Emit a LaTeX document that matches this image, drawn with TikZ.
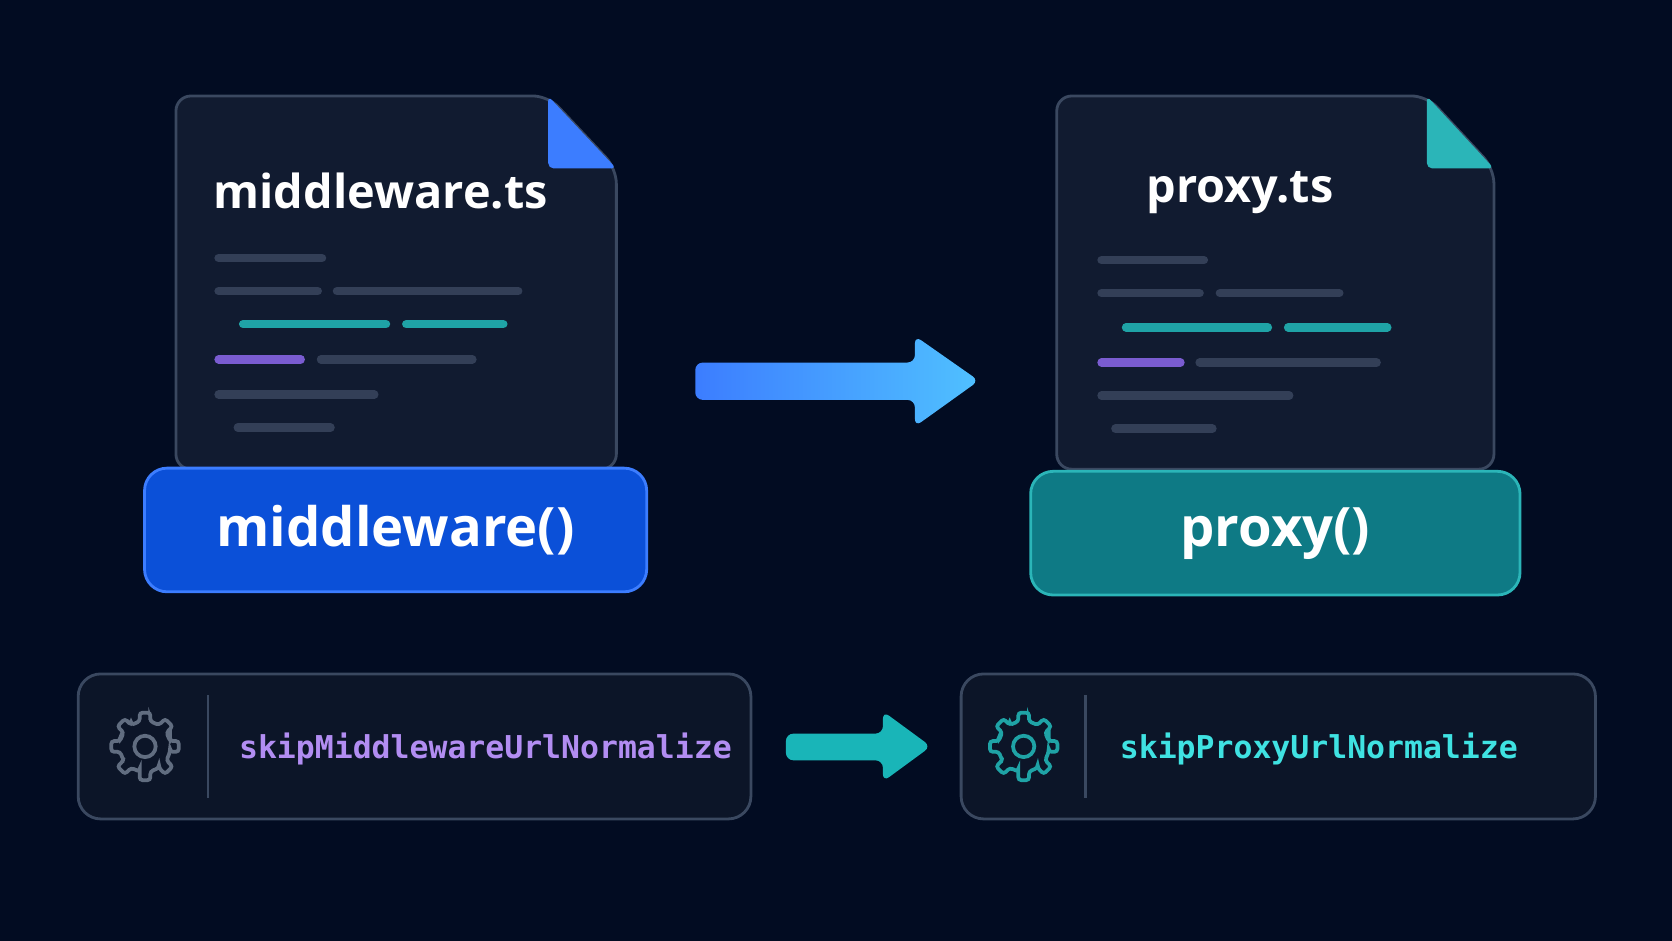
\documentclass[tikz,border=0pt]{standalone}
\usepackage{fontspec}
\setmainfont{Open Sans}
\newfontfamily\codefont{DejaVu Sans Mono}
\usetikzlibrary{positioning}

\definecolor{bgcol}{HTML}{020C22}
\definecolor{docfill}{HTML}{111B30}
\definecolor{docedge}{HTML}{3A4860}
\definecolor{codegrey}{HTML}{333F57}
\definecolor{codeteal}{HTML}{1FA3A6}
\definecolor{codepurple}{HTML}{7A5CD0}
\definecolor{mwblue}{HTML}{0B50D8}
\definecolor{mwedge}{HTML}{3C7DFF}
\definecolor{pxteal}{HTML}{0E7A85}
\definecolor{pxedge}{HTML}{2BB5B8}
\definecolor{purpletext}{HTML}{B28DF2}
\definecolor{cyantext}{HTML}{3FE2E2}
\definecolor{boxfill}{HTML}{0C1528}

\tikzset{
  doc/.style={draw=docedge, line width=1.5pt, fill=docfill, rounded corners=8pt},
  codeline/.style={line width=4.5pt, line cap=round},
  label/.style={rounded corners=12pt, line width=1.5pt, minimum width=9.42cm, minimum height=2.32cm,
    text=white, font=\fontsize{29}{29}\selectfont\bfseries},
  setting/.style={draw=docedge, line width=1.5pt, fill=boxfill, rounded corners=12pt,
    minimum height=2.72cm, anchor=west},
  settext/.style={font=\codefont\fontsize{16.8}{17}\selectfont\bfseries, anchor=west},
  gear/.style={line width=2pt, rounded corners=1.5pt},
}

\begin{document}
\begin{tikzpicture}[x=0.02cm,y=-0.02cm]
  \fill[bgcol] (0,0) rectangle (1568,882);

  % left file
  \draw[doc] (165,90) -- (514,90) -- (578,158) -- (578,440) -- (165,440) -- cycle;
  \fill[mwedge, rounded corners=3pt] (514,90) -- (578,158) -- (514,158) -- cycle;
  \node[font=\fontsize{25}{25}\selectfont\bfseries, text=white] (mwfile) at (357,179) {middleware.ts};
  \draw[codeline, codegrey] (205,242) -- (302,242);
  \draw[codeline, codegrey] (205,273) -- (298,273) (316,273) -- (486,273);
  \draw[codeline, codeteal] (228,304) -- (362,304) (381,304) -- (472,304);
  \draw[codeline, codepurple] (205,337) -- (282,337);
  \draw[codeline, codegrey] (301,337) -- (443,337) (205,370) -- (351,370) (223,401) -- (310,401);
  \node[label, fill=mwblue, draw=mwedge] (mwfunc) at (371,497) {middleware()};

  % right file
  \draw[doc] (991,90) -- (1338,90) -- (1401,158) -- (1401,440) -- (991,440) -- cycle;
  \fill[pxedge, rounded corners=3pt] (1338,90) -- (1401,158) -- (1338,158) -- cycle;
  \node[font=\fontsize{25}{25}\selectfont\bfseries, text=white] (pxfile) at (1163,181) {proxy.ts};
  \draw[codeline, codegrey] (1033,244) -- (1129,244);
  \draw[codeline, codegrey] (1033,275) -- (1125,275) (1144,275) -- (1256,275);
  \draw[codeline, codeteal] (1056,307) -- (1189,307) (1208,307) -- (1301,307);
  \draw[codeline, codepurple] (1033,340) -- (1107,340);
  \draw[codeline, codegrey] (1125,340) -- (1291,340) (1033,371) -- (1209,371) (1046,402) -- (1137,402);
  \node[label, fill=pxteal, draw=pxedge, minimum width=9.18cm] (pxfunc) at (1196,500) {proxy()};

  % big arrow
  \shade[left color=mwedge, right color=mwedge!60!cyan!80!white, rounded corners=4pt]
    (652,340) -- (858,340) -- (858,315) -- (918,357) -- (858,400) -- (858,375) -- (652,375) -- cycle;

  % settings
  \node[setting, minimum width=12.62cm] (mwset) at (72,700) {};
  \node[setting, minimum width=11.9cm] (pxset) at (900,700) {};
  \draw[docedge, line width=1.2pt] (195,652) -- (195,748) (1018,652) -- (1018,748);
  \node[settext, text=purpletext] (mwflag) at (218,702) {skipMiddlewareUrlNormalize};
  \node[settext, text=cyantext] (pxflag) at (1044,702) {skipProxyUrlNormalize};
  \foreach \gx/\gc in {136/docedge!80!white, 960/codeteal} {
    \draw[gear, \gc] (\gx,700) ++(-12:24)
      \foreach \a in {0,45,...,315} { -- ++(0,0) -- ([shift={(\gx,700)}]\a-12:24) -- ([shift={(\gx,700)}]\a-9:32)
        -- ([shift={(\gx,700)}]\a+9:32) -- ([shift={(\gx,700)}]\a+12:24) } -- cycle;
    \draw[\gc, line width=2pt] (\gx,700) circle[radius=10];
  }

  % small arrow
  \fill[codeteal!80!cyan, rounded corners=4pt]
    (737,688) -- (828,688) -- (828,667) -- (873,700) -- (828,733) -- (828,713) -- (737,713) -- cycle;
\end{tikzpicture}
\end{document}
